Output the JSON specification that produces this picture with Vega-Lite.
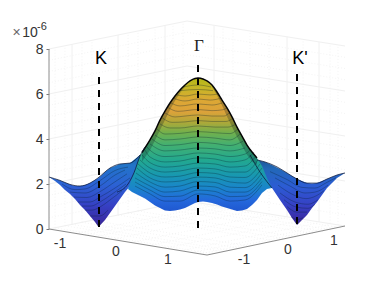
{"$schema":"https://vega.github.io/schema/vega-lite/v6.json","width":382,"height":286,"autosize":"none","padding":0,"background":"white","config":{"view":{"stroke":null}},
"datasets":{
"minor":[{"u":49,"z":0.5,"u2":187,"z2":1.744},{"u":187,"z":1.744,"u2":345,"z2":0.633},{"u":49,"z":1,"u2":187,"z2":2.244},{"u":187,"z":2.244,"u2":345,"z2":1.133},{"u":49,"z":1.5,"u2":187,"z2":2.744},{"u":187,"z":2.744,"u2":345,"z2":1.633},{"u":49,"z":2.5,"u2":187,"z2":3.744},{"u":187,"z":3.744,"u2":345,"z2":2.633},{"u":49,"z":3,"u2":187,"z2":4.244},{"u":187,"z":4.244,"u2":345,"z2":3.133},{"u":49,"z":3.5,"u2":187,"z2":4.744},{"u":187,"z":4.744,"u2":345,"z2":3.633},{"u":49,"z":4.5,"u2":187,"z2":5.744},{"u":187,"z":5.744,"u2":345,"z2":4.633},{"u":49,"z":5,"u2":187,"z2":6.244},{"u":187,"z":6.244,"u2":345,"z2":5.133},{"u":49,"z":5.5,"u2":187,"z2":6.744},{"u":187,"z":6.744,"u2":345,"z2":5.633},{"u":49,"z":6.5,"u2":187,"z2":7.744},{"u":187,"z":7.744,"u2":345,"z2":6.633},{"u":49,"z":7,"u2":187,"z2":8.244},{"u":187,"z":8.244,"u2":345,"z2":7.133},{"u":49,"z":7.5,"u2":187,"z2":8.744},{"u":187,"z":8.744,"u2":345,"z2":7.633},
{"u":55,"z":0.054,"u2":55,"z2":8.054},{"u":65,"z":0.144,"u2":65,"z2":8.144},{"u":82,"z":0.298,"u2":82,"z2":8.298},{"u":92,"z":0.388,"u2":92,"z2":8.388},{"u":128,"z":0.713,"u2":128,"z2":8.713},{"u":138,"z":0.803,"u2":138,"z2":8.803},{"u":155,"z":0.956,"u2":155,"z2":8.956},{"u":173,"z":1.118,"u2":173,"z2":9.118},{"u":183,"z":1.209,"u2":183,"z2":9.209},{"u":223,"z":0.991,"u2":223,"z2":8.991},{"u":233,"z":0.921,"u2":233,"z2":8.921},{"u":250,"z":0.801,"u2":250,"z2":8.801},{"u":269,"z":0.667,"u2":269,"z2":8.667},{"u":303,"z":0.428,"u2":303,"z2":8.428},{"u":330,"z":0.239,"u2":330,"z2":8.239},{"u":338,"z":0.182,"u2":338,"z2":8.182},
{"u":55,"z":0.054,"u2":213,"z2":-1.102},{"u":65,"z":0.144,"u2":223,"z2":-1.012},{"u":72,"z":0.207,"u2":230,"z2":-0.949},{"u":82,"z":0.298,"u2":240,"z2":-0.858},{"u":92,"z":0.388,"u2":250,"z2":-0.768},{"u":118,"z":0.622,"u2":276,"z2":-0.534},{"u":128,"z":0.713,"u2":286,"z2":-0.443},{"u":138,"z":0.803,"u2":296,"z2":-0.353},{"u":155,"z":0.956,"u2":313,"z2":-0.2},{"u":165,"z":1.046,"u2":323,"z2":-0.11},{"u":173,"z":1.118,"u2":331,"z2":-0.038},{"u":183,"z":1.209,"u2":341,"z2":0.053},
{"u":76,"z":-0.197,"u2":214,"z2":1.047},{"u":85,"z":-0.263,"u2":223,"z2":0.981},{"u":95,"z":-0.336,"u2":233,"z2":0.908},{"u":112,"z":-0.461,"u2":250,"z2":0.783},{"u":131,"z":-0.6,"u2":269,"z2":0.644},{"u":149,"z":-0.731,"u2":287,"z2":0.513},{"u":165,"z":-0.848,"u2":303,"z2":0.396},{"u":181,"z":-0.965,"u2":319,"z2":0.279},{"u":192,"z":-1.045,"u2":330,"z2":0.199},{"u":200,"z":-1.104,"u2":338,"z2":0.14}],
"major":[{"u":49,"z":2,"u2":187,"z2":3.244},{"u":187,"z":3.244,"u2":345,"z2":2.133},{"u":49,"z":4,"u2":187,"z2":5.244},{"u":187,"z":5.244,"u2":345,"z2":4.133},{"u":49,"z":6,"u2":187,"z2":7.244},{"u":187,"z":7.244,"u2":345,"z2":6.133},{"u":49,"z":8,"u2":187,"z2":9.244},{"u":187,"z":9.244,"u2":345,"z2":8.133},{"u":49,"z":0,"u2":187,"z2":1.244},{"u":187,"z":1.244,"u2":345,"z2":0.133},
{"u":72,"z":0.207,"u2":72,"z2":8.207},{"u":118,"z":0.622,"u2":118,"z2":8.622},{"u":165,"z":1.046,"u2":165,"z2":9.046},{"u":214,"z":1.054,"u2":214,"z2":9.054},{"u":287,"z":0.541,"u2":287,"z2":8.541},{"u":319,"z":0.316,"u2":319,"z2":8.316}],
"box":[{"u":49,"z":0,"u2":49,"z2":8},{"u":49,"z":0,"u2":207,"z2":-1.156},{"u":207,"z":-1.156,"u2":345,"z2":0.133}],
"leftLobe":[{"u":49,"t":2.31,"b":2.31},{"u":55,"t":2.22,"b":2.13},{"u":60,"t":2.16,"b":1.96},{"u":65,"t":2.07,"b":1.73},{"u":70,"t":1.98,"b":1.56},{"u":75,"t":1.91,"b":1.33},{"u":80,"t":1.91,"b":1.07},{"u":85,"t":1.96,"b":0.84},{"u":90,"t":2.04,"b":0.58},{"u":95,"t":2.18,"b":0.31},{"u":98.5,"t":2.27,"b":0.09},{"u":105,"t":2.53,"b":0.4},{"u":110,"t":2.71,"b":0.71},{"u":115,"t":2.8,"b":1.02},{"u":120,"t":2.89,"b":1.33},{"u":125,"t":2.91,"b":1.64},{"u":130,"t":2.93,"b":1.91},{"u":135,"t":3.11,"b":2.18},{"u":140,"t":3.29,"b":2.62},{"u":148,"t":3.51,"b":3.29}],
"rightLobe":[{"u":250,"t":3.29,"b":2.84},{"u":257,"t":3.07,"b":2.53},{"u":265,"t":2.98,"b":2.18},{"u":272,"t":2.84,"b":1.82},{"u":280,"t":2.67,"b":1.29},{"u":287,"t":2.49,"b":0.84},{"u":292,"t":2.36,"b":0.49},{"u":297,"t":2.22,"b":0.18},{"u":302,"t":2.13,"b":0.4},{"u":307,"t":2.04,"b":0.62},{"u":312,"t":2.02,"b":0.93},{"u":317,"t":2.04,"b":1.2},{"u":322,"t":2.13,"b":1.51},{"u":327,"t":2.22,"b":1.82},{"u":332,"t":2.31,"b":2.04},{"u":337,"t":2.4,"b":2.27},{"u":345,"t":2.49,"b":2.49}],
"centre":[{"u":128,"t":1.78,"b":1.78},{"u":132,"t":2.27,"b":1.64},{"u":136,"t":2.71,"b":1.56},{"u":140,"t":3.24,"b":1.47},{"u":145,"t":3.64,"b":1.36},{"u":150,"t":3.96,"b":1.2},{"u":155,"t":4.36,"b":1.04},{"u":160,"t":4.84,"b":0.93},{"u":165,"t":5.24,"b":0.82},{"u":170,"t":5.6,"b":0.8},{"u":175,"t":5.91,"b":0.82},{"u":180,"t":6.18,"b":0.87},{"u":185,"t":6.4,"b":0.93},{"u":190,"t":6.58,"b":1.04},{"u":195,"t":6.69,"b":1.16},{"u":198,"t":6.71,"b":1.2},{"u":203,"t":6.67,"b":1.22},{"u":207,"t":6.58,"b":1.2},{"u":212,"t":6.4,"b":1.16},{"u":217,"t":6.09,"b":1.09},{"u":222,"t":5.73,"b":1.0},{"u":227,"t":5.38,"b":0.93},{"u":232,"t":4.98,"b":0.87},{"u":237,"t":4.53,"b":0.8},{"u":242,"t":4.13,"b":0.82},{"u":247,"t":3.73,"b":0.89},{"u":252,"t":3.42,"b":1.07},{"u":257,"t":3.16,"b":1.29},{"u":262,"t":2.8,"b":1.6},{"u":267,"t":2.27,"b":1.78},{"u":272,"t":1.82,"b":1.82}],
"flank":[{"s":"a","u":142,"t":3.4,"b":3.0},{"s":"a","u":150,"t":3.96,"b":3.5},{"s":"a","u":155,"t":4.36,"b":3.95},{"s":"a","u":160,"t":4.84,"b":4.4},{"s":"a","u":165,"t":5.24,"b":4.85},{"s":"a","u":170,"t":5.6,"b":5.3},{"s":"a","u":175,"t":5.91,"b":5.7},{"s":"a","u":180,"t":6.18,"b":6.05},{"s":"a","u":185,"t":6.4,"b":6.32},
{"s":"b","u":212,"t":6.4,"b":6.32},{"s":"b","u":217,"t":6.09,"b":5.95},{"s":"b","u":222,"t":5.73,"b":5.5},{"s":"b","u":227,"t":5.38,"b":5.0},{"s":"b","u":232,"t":4.98,"b":4.55},{"s":"b","u":237,"t":4.53,"b":4.1},{"s":"b","u":242,"t":4.13,"b":3.7},{"s":"b","u":247,"t":3.73,"b":3.3},{"s":"b","u":252,"t":3.42,"b":3.0},{"s":"b","u":257,"t":3.16,"b":2.85}],
"mesh":[
{"s":"c1","u":135,"z":1.91},{"s":"c1","u":150,"z":1.56},{"s":"c1","u":165,"z":1.24},{"s":"c1","u":180,"z":1.24},{"s":"c1","u":198,"z":1.56},{"s":"c1","u":215,"z":1.47},{"s":"c1","u":230,"z":1.24},{"s":"c1","u":245,"z":1.29},{"s":"c1","u":262,"z":1.96},
{"s":"c1b","u":135,"z":2.09},{"s":"c1b","u":150,"z":1.73},{"s":"c1b","u":165,"z":1.44},{"s":"c1b","u":180,"z":1.46},{"s":"c1b","u":198,"z":1.73},{"s":"c1b","u":215,"z":1.67},{"s":"c1b","u":230,"z":1.44},{"s":"c1b","u":245,"z":1.46},{"s":"c1b","u":262,"z":2.11},
{"s":"c2","u":135,"z":2.27},{"s":"c2","u":150,"z":1.91},{"s":"c2","u":165,"z":1.64},{"s":"c2","u":180,"z":1.69},{"s":"c2","u":198,"z":1.91},{"s":"c2","u":215,"z":1.87},{"s":"c2","u":230,"z":1.64},{"s":"c2","u":245,"z":1.64},{"s":"c2","u":262,"z":2.27},
{"s":"c2b","u":136,"z":2.49},{"s":"c2b","u":150,"z":2.09},{"s":"c2b","u":165,"z":1.86},{"s":"c2b","u":180,"z":1.91},{"s":"c2b","u":198,"z":2.11},{"s":"c2b","u":215,"z":2.07},{"s":"c2b","u":230,"z":1.86},{"s":"c2b","u":245,"z":1.84},{"s":"c2b","u":262,"z":2.49},
{"s":"c3","u":137,"z":2.71},{"s":"c3","u":150,"z":2.27},{"s":"c3","u":165,"z":2.09},{"s":"c3","u":180,"z":2.13},{"s":"c3","u":198,"z":2.31},{"s":"c3","u":215,"z":2.27},{"s":"c3","u":230,"z":2.09},{"s":"c3","u":245,"z":2.04},{"s":"c3","u":262,"z":2.71},
{"s":"c3b","u":138,"z":2.89},{"s":"c3b","u":150,"z":2.49},{"s":"c3b","u":165,"z":2.31},{"s":"c3b","u":180,"z":2.35},{"s":"c3b","u":198,"z":2.51},{"s":"c3b","u":215,"z":2.47},{"s":"c3b","u":230,"z":2.31},{"s":"c3b","u":245,"z":2.29},{"s":"c3b","u":260,"z":2.89},
{"s":"c4","u":140,"z":3.07},{"s":"c4","u":150,"z":2.71},{"s":"c4","u":165,"z":2.53},{"s":"c4","u":180,"z":2.58},{"s":"c4","u":198,"z":2.71},{"s":"c4","u":215,"z":2.67},{"s":"c4","u":230,"z":2.53},{"s":"c4","u":245,"z":2.53},{"s":"c4","u":258,"z":3.07},
{"s":"c4b","u":142,"z":3.29},{"s":"c4b","u":150,"z":2.95},{"s":"c4b","u":165,"z":2.75},{"s":"c4b","u":180,"z":2.8},{"s":"c4b","u":198,"z":2.93},{"s":"c4b","u":215,"z":2.89},{"s":"c4b","u":230,"z":2.75},{"s":"c4b","u":245,"z":2.8},{"s":"c4b","u":256,"z":3.25},
{"s":"c5","u":145,"z":3.51},{"s":"c5","u":150,"z":3.2},{"s":"c5","u":165,"z":2.98},{"s":"c5","u":180,"z":3.02},{"s":"c5","u":198,"z":3.16},{"s":"c5","u":215,"z":3.11},{"s":"c5","u":230,"z":2.98},{"s":"c5","u":245,"z":3.07},{"s":"c5","u":254,"z":3.42},
{"s":"c5b","u":147,"z":3.65},{"s":"c5b","u":150,"z":3.5},{"s":"c5b","u":165,"z":3.22},{"s":"c5b","u":180,"z":3.26},{"s":"c5b","u":198,"z":3.38},{"s":"c5b","u":215,"z":3.33},{"s":"c5b","u":230,"z":3.22},{"s":"c5b","u":245,"z":3.33},{"s":"c5b","u":251,"z":3.55},
{"s":"c6","u":150,"z":3.78},{"s":"c6","u":165,"z":3.47},{"s":"c6","u":180,"z":3.51},{"s":"c6","u":198,"z":3.6},{"s":"c6","u":215,"z":3.56},{"s":"c6","u":230,"z":3.47},{"s":"c6","u":245,"z":3.6},
{"s":"c6b","u":152,"z":4.0},{"s":"c6b","u":165,"z":3.71},{"s":"c6b","u":180,"z":3.75},{"s":"c6b","u":198,"z":3.85},{"s":"c6b","u":215,"z":3.8},{"s":"c6b","u":230,"z":3.71},{"s":"c6b","u":243,"z":3.9},
{"s":"c7","u":155,"z":4.18},{"s":"c7","u":165,"z":3.96},{"s":"c7","u":180,"z":4},{"s":"c7","u":198,"z":4.09},{"s":"c7","u":215,"z":4.04},{"s":"c7","u":230,"z":3.96},{"s":"c7","u":240,"z":4.22},
{"s":"c7b","u":157,"z":4.45},{"s":"c7b","u":165,"z":4.22},{"s":"c7b","u":180,"z":4.25},{"s":"c7b","u":198,"z":4.33},{"s":"c7b","u":215,"z":4.28},{"s":"c7b","u":230,"z":4.24},{"s":"c7b","u":238,"z":4.45},
{"s":"c8","u":160,"z":4.67},{"s":"c8","u":170,"z":4.49},{"s":"c8","u":180,"z":4.49},{"s":"c8","u":198,"z":4.58},{"s":"c8","u":215,"z":4.53},{"s":"c8","u":228,"z":4.53},{"s":"c8","u":236,"z":4.67},
{"s":"c8b","u":162,"z":4.95},{"s":"c8b","u":172,"z":4.74},{"s":"c8b","u":185,"z":4.76},{"s":"c8b","u":198,"z":4.82},{"s":"c8b","u":212,"z":4.78},{"s":"c8b","u":226,"z":4.78},{"s":"c8b","u":233,"z":4.93},
{"s":"c9","u":165,"z":5.16},{"s":"c9","u":175,"z":4.98},{"s":"c9","u":185,"z":5.02},{"s":"c9","u":198,"z":5.07},{"s":"c9","u":212,"z":5.02},{"s":"c9","u":224,"z":5.02},{"s":"c9","u":230,"z":5.2},
{"s":"c9b","u":168,"z":5.4},{"s":"c9b","u":178,"z":5.23},{"s":"c9b","u":198,"z":5.31},{"s":"c9b","u":212,"z":5.26},{"s":"c9b","u":223,"z":5.3},{"s":"c9b","u":227,"z":5.4},
{"s":"c10","u":171,"z":5.6},{"s":"c10","u":180,"z":5.47},{"s":"c10","u":198,"z":5.56},{"s":"c10","u":212,"z":5.51},{"s":"c10","u":222,"z":5.6},
{"s":"c10b","u":174,"z":5.8},{"s":"c10b","u":185,"z":5.69},{"s":"c10b","u":198,"z":5.78},{"s":"c10b","u":210,"z":5.73},{"s":"c10b","u":220,"z":5.8},
{"s":"c11","u":177,"z":5.96},{"s":"c11","u":185,"z":5.91},{"s":"c11","u":198,"z":6},{"s":"c11","u":210,"z":5.96},{"s":"c11","u":218,"z":6},
{"s":"c11b","u":180,"z":6.15},{"s":"c11b","u":198,"z":6.2},{"s":"c11b","u":213,"z":6.15},
{"s":"c12","u":183,"z":6.31},{"s":"c12","u":198,"z":6.4},{"s":"c12","u":211,"z":6.31},
{"s":"l0","u":62,"z":2.0},{"s":"l0","u":75,"z":1.75},{"s":"l0","u":85,"z":1.78},{"s":"l0","u":100,"z":2.15},{"s":"l0","u":115,"z":2.6},{"s":"l0","u":128,"z":2.75},
{"s":"l1","u":70,"z":1.64},{"s":"l1","u":85,"z":1.6},{"s":"l1","u":100,"z":1.91},{"s":"l1","u":115,"z":2.4},{"s":"l1","u":125,"z":2.62},
{"s":"l1b","u":74,"z":1.42},{"s":"l1b","u":87,"z":1.4},{"s":"l1b","u":100,"z":1.66},{"s":"l1b","u":115,"z":2.1},{"s":"l1b","u":127,"z":2.45},
{"s":"l2","u":78,"z":1.2},{"s":"l2","u":90,"z":1.2},{"s":"l2","u":100,"z":1.42},{"s":"l2","u":115,"z":1.82},{"s":"l2","u":130,"z":2.27},
{"s":"l2b","u":82,"z":1.02},{"s":"l2b","u":91,"z":1.02},{"s":"l2b","u":100,"z":1.2},{"s":"l2b","u":112,"z":1.55},{"s":"l2b","u":126,"z":2},
{"s":"l3","u":85,"z":0.84},{"s":"l3","u":92,"z":0.84},{"s":"l3","u":100,"z":0.98},{"s":"l3","u":110,"z":1.29},{"s":"l3","u":122,"z":1.7},
{"s":"l4","u":90,"z":0.58},{"s":"l4","u":100,"z":0.58},{"s":"l4","u":108,"z":0.84},
{"s":"r0","u":270,"z":2.55},{"s":"r0","u":287,"z":2.2},{"s":"r0","u":302,"z":1.85},{"s":"r0","u":315,"z":1.82},{"s":"r0","u":326,"z":2.05},{"s":"r0","u":336,"z":2.28},
{"s":"r1","u":275,"z":2.27},{"s":"r1","u":290,"z":1.91},{"s":"r1","u":305,"z":1.6},{"s":"r1","u":315,"z":1.64},{"s":"r1","u":328,"z":1.95},
{"s":"r1b","u":278,"z":1.95},{"s":"r1b","u":292,"z":1.55},{"s":"r1b","u":306,"z":1.35},{"s":"r1b","u":316,"z":1.47},{"s":"r1b","u":324,"z":1.7},
{"s":"r2","u":280,"z":1.6},{"s":"r2","u":295,"z":1.2},{"s":"r2","u":308,"z":1.1},{"s":"r2","u":318,"z":1.3},
{"s":"r2b","u":284,"z":1.3},{"s":"r2b","u":296,"z":0.98},{"s":"r2b","u":308,"z":0.92},{"s":"r2b","u":315,"z":1.1},
{"s":"r3","u":287,"z":1},{"s":"r3","u":297,"z":0.75},{"s":"r3","u":307,"z":0.75},
{"s":"r4","u":291,"z":0.55},{"s":"r4","u":297,"z":0.42},{"s":"r4","u":303,"z":0.5}],
"hump":[{"s":"hump","u":142,"z":3.4},{"s":"hump","u":150,"z":3.96},{"s":"hump","u":155,"z":4.36},{"s":"hump","u":160,"z":4.84},{"s":"hump","u":165,"z":5.24},{"s":"hump","u":170,"z":5.6},{"s":"hump","u":175,"z":5.91},{"s":"hump","u":180,"z":6.18},{"s":"hump","u":185,"z":6.4},{"s":"hump","u":190,"z":6.58},{"s":"hump","u":195,"z":6.69},{"s":"hump","u":198,"z":6.71},{"s":"hump","u":203,"z":6.67},{"s":"hump","u":207,"z":6.58},{"s":"hump","u":212,"z":6.4},{"s":"hump","u":217,"z":6.09},{"s":"hump","u":222,"z":5.73},{"s":"hump","u":227,"z":5.38},{"s":"hump","u":232,"z":4.98},{"s":"hump","u":237,"z":4.53},{"s":"hump","u":242,"z":4.13},{"s":"hump","u":247,"z":3.73},{"s":"hump","u":252,"z":3.42},{"s":"hump","u":257,"z":3.16}],
"edge":[
{"s":"leftRidge","u":117,"z":1.64},{"s":"leftRidge","u":128,"z":2.0},{"s":"leftRidge","u":134,"z":2.5},{"s":"leftRidge","u":140,"z":3.24},{"s":"leftRidge","u":145,"z":3.64},
{"s":"rightRidge","u":250,"z":3.29},{"s":"rightRidge","u":260,"z":2.53},{"s":"rightRidge","u":267,"z":2.1},{"s":"rightRidge","u":272,"z":1.82},
{"s":"leftTop","u":49,"z":2.31},{"s":"leftTop","u":60,"z":2.16},{"s":"leftTop","u":70,"z":1.98},{"s":"leftTop","u":80,"z":1.91},{"s":"leftTop","u":90,"z":2.04},{"s":"leftTop","u":98,"z":2.27},{"s":"leftTop","u":110,"z":2.71},{"s":"leftTop","u":120,"z":2.89},{"s":"leftTop","u":130,"z":2.93},{"s":"leftTop","u":140,"z":3.29},
{"s":"rightTop","u":257,"z":3.07},{"s":"rightTop","u":265,"z":2.98},{"s":"rightTop","u":277,"z":2.76},{"s":"rightTop","u":287,"z":2.49},{"s":"rightTop","u":297,"z":2.22},{"s":"rightTop","u":307,"z":2.04},{"s":"rightTop","u":317,"z":2.04},{"s":"rightTop","u":327,"z":2.22},{"s":"rightTop","u":337,"z":2.4},{"s":"rightTop","u":345,"z":2.49}],
"drops":[{"p":"K","u":99,"z":6.76,"z2":0.09},{"p":"Γ","u":198,"z":7.29,"z2":0.04},{"p":"K'","u":297,"z":6.89,"z2":0.18}],
"ticklabels":[{"t":"-1","u":60,"z":-0.667},{"t":"0","u":116,"z":-1.022},{"t":"1","u":168,"z":-1.378},{"t":"-1","u":244,"z":-1.378},{"t":"0","u":288,"z":-0.933},{"t":"1","u":334,"z":-0.533},{"t":"10","u":30,"z":8.711}]
},
"layer":[
{"data":{"name":"minor"},"mark":{"type":"rule","stroke":"#ececec","strokeWidth":0.6,"strokeDash":[1,2]},
 "encoding":{"x":{"field":"u","type":"quantitative","scale":{"domain":[0,382],"nice":false,"zero":false},"axis":null},"y":{"field":"z","type":"quantitative","scale":{"domain":[-2.533,10.178],"nice":false,"zero":false},"axis":{"values":[0,2,4,6,8],"offset":-49,"domain":false,"grid":false,"tickColor":"#777777","tickSize":3,"tickWidth":1,"labelColor":"#333333","labelFont":"Liberation Sans","labelFontSize":14,"labelPadding":3,"title":null}},"x2":{"field":"u2"},"y2":{"field":"z2"}}},
{"data":{"name":"major"},"mark":{"type":"rule","stroke":"#f0f0f0","strokeWidth":1},"encoding":{"x":{"field":"u","type":"quantitative"},"y":{"field":"z","type":"quantitative"},"x2":{"field":"u2"},"y2":{"field":"z2"}}},
{"data":{"name":"box"},"mark":{"type":"rule","stroke":"#8c8c8c","strokeWidth":1},"encoding":{"x":{"field":"u","type":"quantitative"},"y":{"field":"z","type":"quantitative"},"x2":{"field":"u2"},"y2":{"field":"z2"}}},
{"data":{"name":"leftLobe"},"mark":{"type":"area","fill":{"x1":0,"y1":0,"x2":0,"y2":1,"gradient":"linear","stops":[{"offset":0,"color":"#185f94"},{"offset":0.2,"color":"#2274c8"},{"offset":0.45,"color":"#2c62d4"},{"offset":0.72,"color":"#3640c4"},{"offset":0.92,"color":"#3a2ca4"},{"offset":1,"color":"#352a87"}]}},"encoding":{"x":{"field":"u","type":"quantitative"},"y":{"field":"t","type":"quantitative"},"y2":{"field":"b"}}},
{"data":{"name":"rightLobe"},"mark":{"type":"area","fill":{"x1":0,"y1":0,"x2":0,"y2":1,"gradient":"linear","stops":[{"offset":0,"color":"#184f84"},{"offset":0.2,"color":"#2268b8"},{"offset":0.45,"color":"#2c5cd4"},{"offset":0.72,"color":"#3640c4"},{"offset":0.92,"color":"#3a2ca4"},{"offset":1,"color":"#352a87"}]}},"encoding":{"x":{"field":"u","type":"quantitative"},"y":{"field":"t","type":"quantitative"},"y2":{"field":"b"}}},
{"data":{"name":"centre"},"mark":{"type":"area","fill":{"x1":0,"y1":0,"x2":0,"y2":1,"gradient":"linear","stops":[{"offset":0,"color":"#b4b818"},{"offset":0.075,"color":"#c6b626"},{"offset":0.165,"color":"#dca834"},{"offset":0.255,"color":"#dca23a"},{"offset":0.33,"color":"#b0a838"},{"offset":0.41,"color":"#72b04c"},{"offset":0.5,"color":"#44b070"},{"offset":0.62,"color":"#22a890"},{"offset":0.73,"color":"#1898b0"},{"offset":0.83,"color":"#1a84cc"},{"offset":0.92,"color":"#2468dc"},{"offset":1,"color":"#2058d0"}]}},"encoding":{"x":{"field":"u","type":"quantitative"},"y":{"field":"t","type":"quantitative"},"y2":{"field":"b"}}},
{"data":{"name":"flank"},"mark":{"type":"area","fill":"#04141c","opacity":0.25},"encoding":{"x":{"field":"u","type":"quantitative"},"y":{"field":"t","type":"quantitative"},"y2":{"field":"b"},"detail":{"field":"s"}}},
{"data":{"name":"mesh"},"mark":{"type":"line","interpolate":"monotone","stroke":"#06202e","strokeWidth":0.8,"opacity":0.4},"encoding":{"x":{"field":"u","type":"quantitative"},"y":{"field":"z","type":"quantitative"},"detail":{"field":"s"}}},
{"data":{"name":"hump"},"mark":{"type":"line","interpolate":"monotone","stroke":"#050505","strokeWidth":1.5},"encoding":{"x":{"field":"u","type":"quantitative"},"y":{"field":"z","type":"quantitative"},"detail":{"field":"s"}}},
{"data":{"name":"edge"},"mark":{"type":"line","interpolate":"monotone","stroke":"#0c1838","strokeWidth":1,"opacity":0.75},"encoding":{"x":{"field":"u","type":"quantitative"},"y":{"field":"z","type":"quantitative"},"detail":{"field":"s"}}},
{"data":{"name":"drops"},"mark":{"type":"rule","stroke":"#000000","strokeWidth":2,"strokeDash":[7,6]},"encoding":{"x":{"field":"u","type":"quantitative"},"y":{"field":"z","type":"quantitative"},"y2":{"field":"z2"}}},
{"data":{"name":"ticklabels"},"mark":{"type":"text","font":"Liberation Sans","fontSize":14,"fill":"#333333","align":"center","baseline":"middle"},"encoding":{"x":{"field":"u","type":"quantitative"},"y":{"field":"z","type":"quantitative"},"text":{"field":"t"}}},
{"data":{"values":[{"t":"×","u":16.5,"z":8.711}]},"mark":{"type":"text","font":"Liberation Sans","fontSize":14,"fill":"#666666","align":"center","baseline":"middle"},"encoding":{"x":{"field":"u","type":"quantitative"},"y":{"field":"z","type":"quantitative"},"text":{"field":"t"}}},
{"data":{"values":[{"t":"-6","u":42,"z":8.978}]},"mark":{"type":"text","font":"Liberation Sans","fontSize":11,"fill":"#333333","align":"center","baseline":"middle"},"encoding":{"x":{"field":"u","type":"quantitative"},"y":{"field":"z","type":"quantitative"},"text":{"field":"t"}}},
{"data":{"values":[{"t":"K","u":101,"z":7.556},{"t":"K'","u":300,"z":7.556}]},"mark":{"type":"text","font":"Liberation Sans","fontSize":18,"fill":"#000000","align":"center","baseline":"middle"},"encoding":{"x":{"field":"u","type":"quantitative"},"y":{"field":"z","type":"quantitative"},"text":{"field":"t"}}},
{"data":{"values":[{"t":"Γ","u":199,"z":8.133}]},"mark":{"type":"text","font":"Liberation Serif","fontSize":17,"fill":"#222222","align":"center","baseline":"middle"},"encoding":{"x":{"field":"u","type":"quantitative"},"y":{"field":"z","type":"quantitative"},"text":{"field":"t"}}}
]}
